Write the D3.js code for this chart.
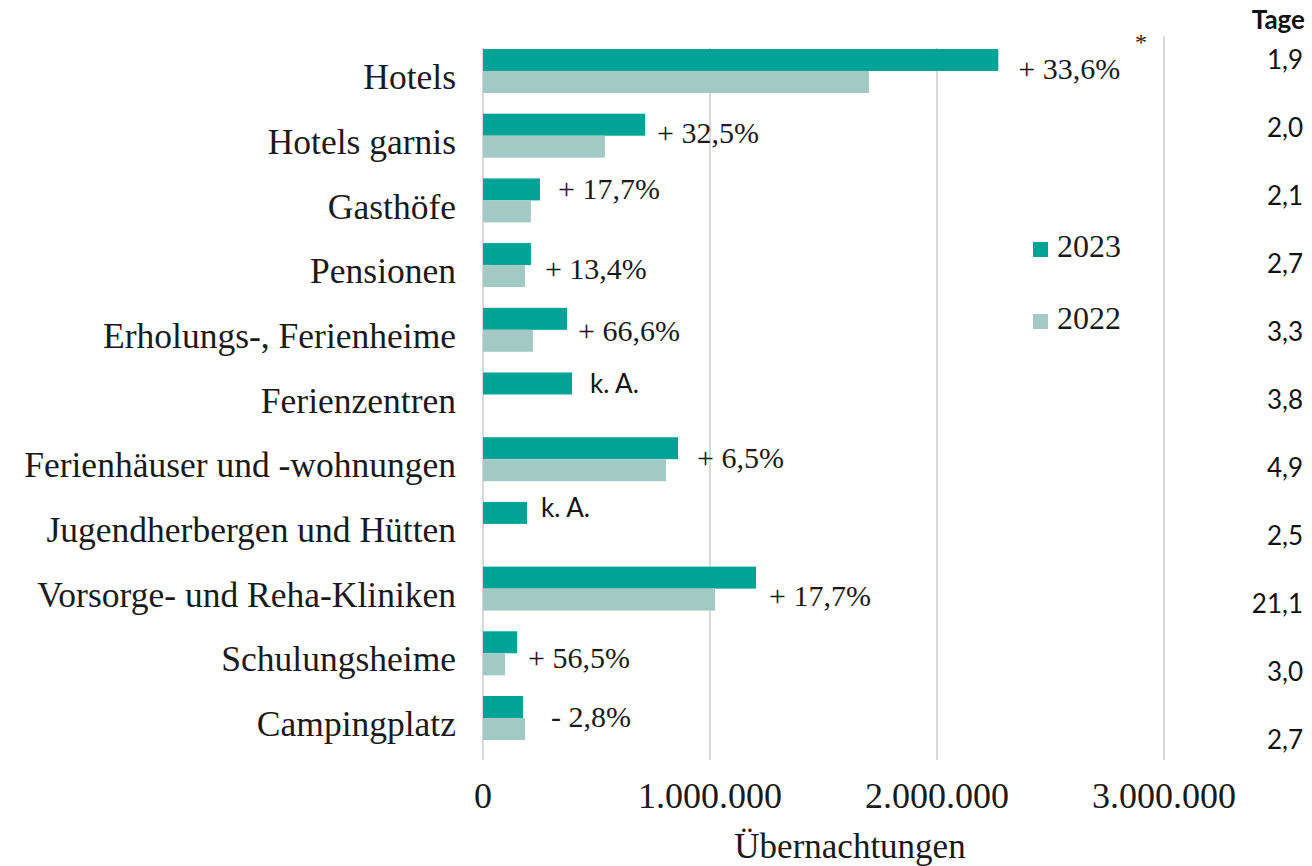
<!DOCTYPE html>
<html>
<head>
<meta charset="utf-8">
<script src="https://cdn.jsdelivr.net/npm/d3@7"></script>
<style>
  html, body { margin: 0; padding: 0; background: #fff; }
  svg { display: block; }
  .serif { font-family: "Liberation Serif", "Times New Roman", serif; fill: #1a1a1a; }
  .sans { font-family: Lato, "Open Sans", sans-serif; fill: #111; }
  .grid { stroke: #d9d9d9; stroke-width: 2; }
</style>
</head>
<body>
<div id="chart"></div>
<script>
// categories top → bottom
var categories = ["Hotels", "Hotels garnis", "Gasthöfe", "Pensionen", "Erholungs-, Ferienheime", "Ferienzentren",
  "Ferienhäuser und -wohnungen", "Jugendherbergen und Hütten", "Vorsorge- und Reha-Kliniken", "Schulungsheime", "Campingplatz"];
var series = ["2023", "2022"];
// Übernachtungen, null = no value
var values2023 = [2270000, 714000, 251000, 211000, 370000, 392000, 859000, 194000, 1203000, 150000, 176000];
var values2022 = [1700000, 537000, 211000, 185000, 220000, null, 806000, null, 1022000, 97000, 185000];
var changeLabels = ["+ 33,6%", "+ 32,5%", "+ 17,7%", "+ 13,4%", "+ 66,6%", "k. A.", "+ 6,5%", "k. A.", "+ 17,7%", "+ 56,5%", "- 2,8%"];
var tage = ["1,9", "2,0", "2,1", "2,7", "3,3", "3,8", "4,9", "2,5", "21,1", "3,0", "2,7"];
var xTicks = [0, 1000000, 2000000, 3000000];

// layout (hand-placed annotation nudges, px)
var labelDx = [20, 12, 18, 14, 11, 18, 19, 14, 13, 11, 26];
var labelDy = [1, 0, -8, 7, 4, -8, 2, -13, 11, 8, 2];
var colors = { "2023": "#00a396", "2022": "#a2c9c3" };

var W = 1312, H = 866;
var svg = d3.select("#chart").append("svg").attr("width", W).attr("height", H);

var de = d3.formatLocale({ decimal: ",", thousands: ".", grouping: [3], currency: ["", " €"] });
var fmt = de.format(",d");

var x = d3.scaleLinear().domain([0, 3000000]).range([483, 1164]);
var y = d3.scaleBand().domain(categories).range([38.65, 750.35]).paddingInner(0.32).paddingOuter(0.16);
var ySub = d3.scaleBand().domain(series).range([0, y.bandwidth()]);
var yTage = d3.scalePoint().domain(categories).range([62, 742]);

// grid
svg.append("g").selectAll("line").data(xTicks).join("line")
  .attr("class", "grid")
  .attr("x1", function (d) { return x(d); }).attr("x2", function (d) { return x(d); })
  .attr("y1", function (d, i) { return i === 3 ? 36 : 48; }).attr("y2", 760);

// tick labels
svg.append("g").selectAll("text").data(xTicks).join("text")
  .attr("class", "serif")
  .attr("x", function (d) { return x(d); }).attr("y", 800)
  .attr("text-anchor", "middle").attr("dominant-baseline", "middle")
  .style("font-size", "36px")
  .text(function (d) { return fmt(d); });

svg.append("text").attr("class", "serif")
  .attr("x", 850).attr("y", 850).attr("text-anchor", "middle").attr("dominant-baseline", "middle")
  .style("font-size", "35px").text("Übernachtungen");

// bars
var rows = categories.map(function (c, i) {
  return { cat: c, i: i, vals: [{ s: "2023", v: values2023[i] }, { s: "2022", v: values2022[i] }] };
});
var g = svg.append("g").selectAll("g").data(rows).join("g")
  .attr("transform", function (d) { return "translate(0," + y(d.cat) + ")"; });
g.selectAll("rect").data(function (d) { return d.vals.filter(function (v) { return v.v != null; }); }).join("rect")
  .attr("x", x(0))
  .attr("y", function (d) { return ySub(d.s); })
  .attr("width", function (d) { return x(d.v) - x(0); })
  .attr("height", ySub.bandwidth())
  .attr("fill", function (d) { return colors[d.s]; });

// category labels
svg.append("g").selectAll("text").data(categories).join("text")
  .attr("class", "serif")
  .attr("x", 456).attr("y", function (d) { return y(d) + y.bandwidth() / 2 + 10; })
  .attr("text-anchor", "end").attr("dominant-baseline", "middle")
  .style("font-size", "35.5px")
  .text(function (d) { return d; });

// change labels
svg.append("g").selectAll("text").data(rows).join("text")
  .attr("class", function (d) { return changeLabels[d.i] === "k. A." ? "sans" : "serif"; })
  .attr("x", function (d) {
    var m = d3.max(d.vals, function (v) { return v.v || 0; });
    return x(m) + labelDx[d.i];
  })
  .attr("y", function (d) { return y(d.cat) + y.bandwidth() / 2 + labelDy[d.i]; })
  .attr("dominant-baseline", "middle")
  .style("font-size", function (d) { return changeLabels[d.i] === "k. A." ? "26px" : "30px"; })
  .text(function (d) { return changeLabels[d.i]; });

// asterisk
svg.append("text").attr("class", "serif").attr("x", 1141).attr("y", 50)
  .attr("text-anchor", "middle").style("font-size", "24px").text("*");

// legend
var lg = svg.append("g").selectAll("g").data(series).join("g")
  .attr("transform", function (d, i) { return "translate(1033," + (242 + i * 72) + ")"; });
lg.append("rect").attr("width", 15).attr("height", 15).attr("fill", function (d) { return colors[d]; });
lg.append("text").attr("class", "serif").attr("x", 24).attr("y", 8)
  .attr("dominant-baseline", "middle").style("font-size", "32px").text(function (d) { return d; });

// Tage column
svg.append("text").attr("class", "sans").attr("x", 1305).attr("y", 22)
  .attr("text-anchor", "end").attr("dominant-baseline", "middle")
  .style("font-size", "26px").style("font-weight", "bold").text("Tage");
svg.append("g").selectAll("text").data(categories).join("text")
  .attr("class", "sans")
  .attr("x", 1303).attr("y", function (d) { return yTage(d); })
  .attr("text-anchor", "end").attr("dominant-baseline", "middle")
  .style("font-size", "26px")
  .text(function (d, i) { return tage[i]; });
</script>
</body>
</html>
